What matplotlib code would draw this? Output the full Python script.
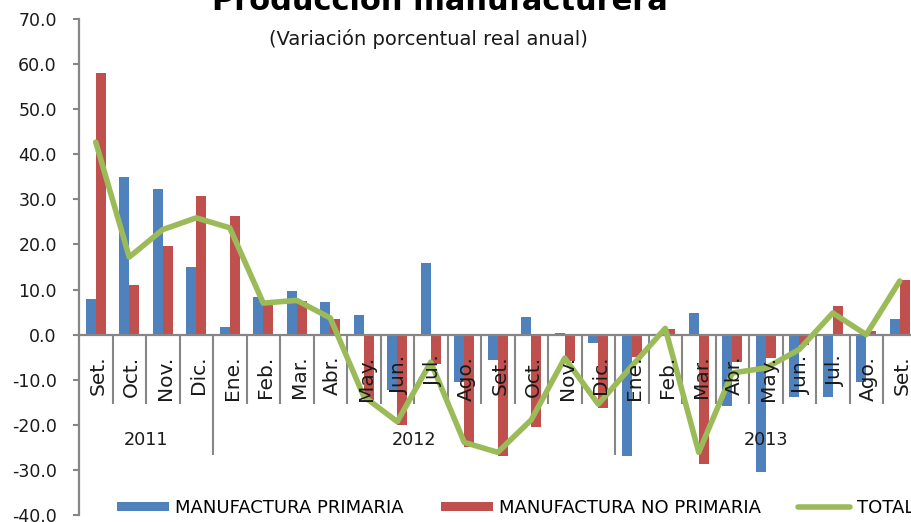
import matplotlib
matplotlib.use("Agg")
import matplotlib.pyplot as plt
import numpy as np

months = ['Set.', 'Oct.', 'Nov.', 'Dic.', 'Ene.', 'Feb.', 'Mar.', 'Abr.', 'May.', 'Jun.',
          'Jul.', 'Ago.', 'Set.', 'Oct.', 'Nov.', 'Dic.', 'Ene.', 'Feb.', 'Mar.', 'Abr.',
          'May.', 'Jun.', 'Jul.', 'Ago.', 'Set.']
years = ['2011', '2012', '2013']
year_counts = [4, 12, 9]

primaria = [8.0, 34.9, 32.4, 15.0, 1.8, 8.4, 9.7, 7.2, 4.3, -12.2,
            15.9, -10.6, -5.6, 3.9, 0.3, -1.9, -27.0, 0.1, 4.7, -15.9,
            -30.4, -13.9, -13.9, -10.6, 3.5]
no_primaria = [58.0, 10.9, 19.6, 30.7, 26.2, 7.0, 7.5, 3.5, -14.7, -20.0,
               -6.5, -25.0, -27.0, -20.5, -5.9, -16.3, -5.0, 1.3, -28.7, -6.0,
               -5.2, -2.2, 6.3, 0.9, 12.2]
total = [42.7, 17.2, 23.3, 25.9, 23.7, 7.0, 7.6, 3.7, -13.7, -19.3,
         -6.1, -23.9, -26.1, -18.9, -5.2, -15.4, -7.0, 1.4, -26.1, -8.5,
         -7.4, -3.3, 4.8, 0.0, 11.9]

yticks = [70, 60, 50, 40, 30, 20, 10, 0, -10, -20, -30, -40]

BLUE = '#4F81BD'
RED = '#C0504D'
GREEN = '#9BBB59'
GRAY = '#868686'

plt.rcParams['font.family'] = ['DejaVu Sans']

W, H = 911, 522
fig = plt.figure(figsize=(W / 100, H / 100), dpi=100)
ax = fig.add_axes([79 / W, (H - 515) / H, 837.5 / W, (515 - 19) / H])

n = len(months)
x = np.arange(n)
bw = 0.3
b1 = ax.bar(x - bw / 2, primaria, width=bw, color=BLUE, zorder=2, label='MANUFACTURA PRIMARIA')
b2 = ax.bar(x + bw / 2, no_primaria, width=bw, color=RED, zorder=2, label='MANUFACTURA NO PRIMARIA')
l1, = ax.plot(x, total, color=GREEN, lw=4.0, zorder=5, solid_joinstyle='round',
              solid_capstyle='round', label='TOTAL')

ax.set_xlim(-0.5, n - 0.5)
ax.set_ylim(-40, 70)
ax.set_yticks(yticks)
ax.set_yticklabels([f'{v:.1f}' for v in yticks], fontsize=12.5, color='#1a1a1a')
ax.tick_params(axis='y', length=4, width=1.5, color=GRAY, pad=12, direction='out')
ax.set_xticks([])
for s in ['top', 'right', 'bottom']:
    ax.spines[s].set_visible(False)
ax.spines['left'].set_color(GRAY)
ax.spines['left'].set_linewidth(1.6)

# zero line (category axis)
ax.axhline(0, color=GRAY, lw=1.6, zorder=3)

# separators
px = (70 - (-40)) / (515 - 19)  # data units per pixel
boundaries_year = np.cumsum(year_counts)[:-1] - 0.5
for b in np.arange(0.5, n - 0.5, 1.0):
    depth = 120 if np.any(np.isclose(b, boundaries_year)) else 69
    ax.plot([b, b], [0, -depth * px], color=GRAY, lw=1.5, zorder=1, solid_capstyle='butt')

# category labels
for i, m in enumerate(months):
    ax.text(i + 0.07, -21 * px, m, rotation=90, ha='center', va='top',
            fontsize=14.5, family=['Liberation Sans Narrow', 'DejaVu Sans'],
            color='#1a1a1a', zorder=6)

# year labels
start = 0
for yr, c in zip(years, year_counts):
    center = start + (c - 1) / 2
    ax.text(center, -105 * px, yr, ha='center', va='center', fontsize=12.7, color='#1a1a1a')
    start += c

# titles
fig.text(440 / W, 1 - 10 / H, 'Producción manufacturera', ha='center', va='baseline',
         fontsize=22, fontweight='bold', color='black')
fig.text(428 / W, 1 - 45 / H, '(Variación porcentual real anual)', ha='center', va='baseline',
         fontsize=14, color='#1a1a1a')

leg = fig.legend([b1, b2, l1], ['MANUFACTURA PRIMARIA', 'MANUFACTURA NO PRIMARIA', 'TOTAL'],
                 loc='center left', bbox_to_anchor=(117 / W, 1 - 508 / H), ncol=3,
                 frameon=False, fontsize=13, handlelength=2.88, handleheight=0.45,
                 handletextpad=0.35, columnspacing=2.05, borderpad=0, borderaxespad=0)

fig.savefig('out.png', dpi=100)
